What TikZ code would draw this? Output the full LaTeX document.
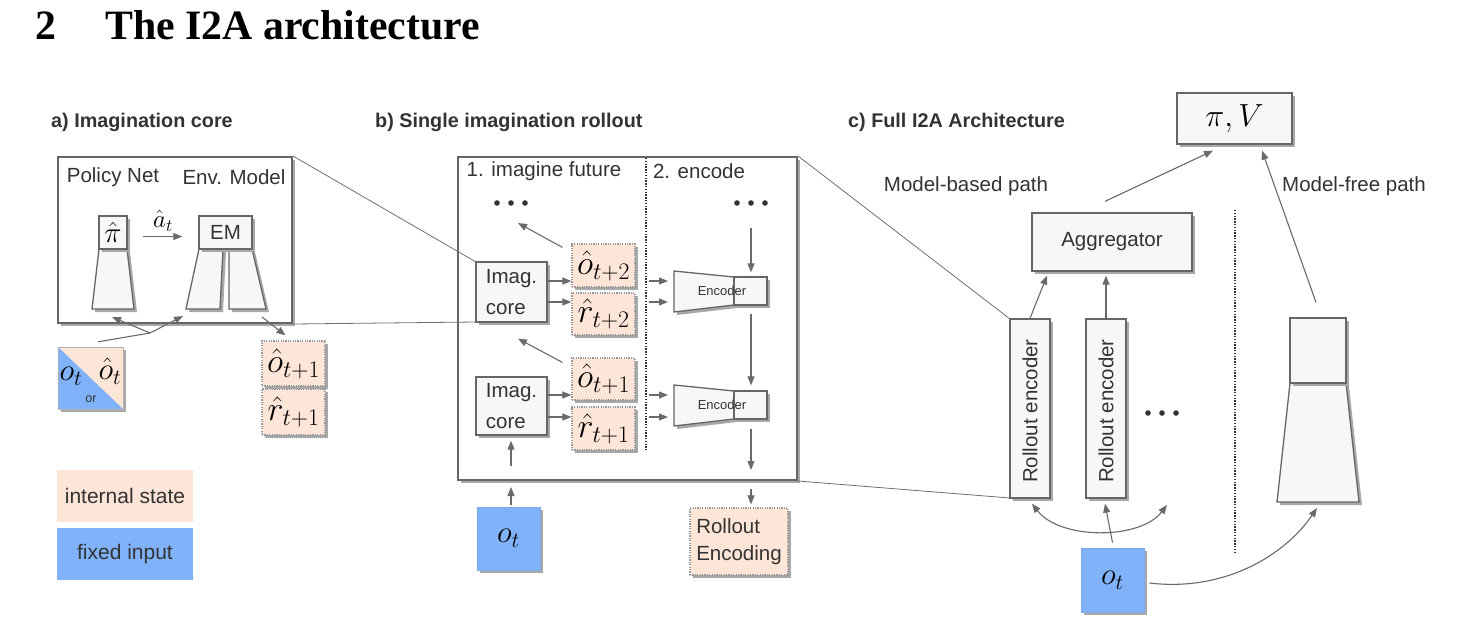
\RequirePackage{fix-cm}
\documentclass[tikz,border=0pt]{standalone}
\usepackage{fontspec}
\setmainfont{Liberation Sans}
\newfontfamily\titlefont{Liberation Serif}
\usetikzlibrary{arrows.meta,shadows,calc}
\definecolor{bord}{HTML}{666666}
\definecolor{boxf}{HTML}{F7F7F7}
\definecolor{shad}{HTML}{A8A8A8}
\definecolor{peach}{HTML}{FDE5D8}
\definecolor{blueF}{HTML}{80B2F9}
\definecolor{arrc}{HTML}{6A6A6A}
\definecolor{txtc}{HTML}{333333}
\definecolor{zlc}{HTML}{707070}
\definecolor{dotc}{HTML}{999999}
\begin{document}
\begin{tikzpicture}[x=1pt,y=-1pt,
  lbl/.style={text=txtc,font=\fontsize{20.5}{24}\selectfont,inner sep=0pt},
  sub/.style={text=txtc,font=\bfseries\fontsize{19.8}{23}\selectfont,inner sep=0pt,anchor=base west},
  shd/.style={drop shadow={shadow xshift=3pt,shadow yshift=-3pt,fill=shad,opacity=1}},
  box/.style={shd,draw=bord,line width=1.3pt,fill=boxf,text=txtc,inner sep=0pt,align=center,font=\fontsize{20.5}{24}\selectfont},
  panel/.style={shd,draw=bord,line width=2pt,fill=white,inner sep=0pt},
  istate/.style={shd,draw=dotc,line width=1.2pt,dash pattern=on 1.2pt off 1.2pt,fill=peach,inner sep=0pt,text=black,font=\fontsize{34}{38}\selectfont},
  fixed/.style={shd,fill=blueF,draw=blueF!85!gray,line width=0.8pt,inner sep=0pt,text=black,font=\fontsize{31}{36}\selectfont},
  arr/.style={draw=arrc,line width=1.1pt,-{Triangle[length=9pt,width=7pt]}},
  darr/.style={draw=arrc,line width=1.1pt,{Triangle[length=9pt,width=7pt]}-{Triangle[length=9pt,width=7pt]}},
  ln/.style={draw=arrc,line width=1.1pt},
  zl/.style={draw=zlc,line width=0.8pt},
  trap/.style={draw=bord,line width=1.3pt,fill=boxf,preaction={fill=shad,transform canvas={xshift=3pt,yshift=-3pt}}},
  mth/.style={inner sep=0pt,text=black,font=\fontsize{31}{36}\selectfont},
  enc/.style={inner sep=0pt,text=txtc,font=\fontsize{13}{15}\selectfont}
]
\fill[white] (0,0) rectangle (1468,638);
\useasboundingbox (0,0) rectangle (1468,638);

% ---------- titles ----------
\node[anchor=base west,inner sep=0pt,font=\titlefont\bfseries\fontsize{41.8}{46}\selectfont] (tnum) at (35,39) {2};
\node[anchor=base west,inner sep=0pt,font=\titlefont\bfseries\fontsize{41.8}{46}\selectfont] (ttl) at (105,39) {The I2A architecture};
\node[sub] (suba) at (51,127) {a) Imagination core};
\node[sub] (subb) at (375,127) {b) Single imagination rollout};
\node[sub] (subc) at (848,127) {c) Full I2A Architecture};

% ---------- panels ----------
\node[panel,minimum width=234pt,minimum height=166pt] (pa) at (175,240) {};
\node[panel,minimum width=339pt,minimum height=323pt] (pb) at (627.5,318.5) {};

% zoom lines
\coordinate (icnw) at (476,262);
\coordinate (icsw) at (476,322);
\coordinate (renw) at (1010,319);
\coordinate (resw) at (1010,498);
\draw[zl] (pa.north east) -- (icnw);
\draw[zl] (pa.south east) -- (icsw);
\draw[zl] (pb.north east) -- (renw);
\draw[zl] (pb.south east) -- (resw);

% ---------- panel a ----------
\node[lbl] (pnl) at (113,177) {Policy Net};
\node[lbl] (eml) at (234,177) {Env. Model};
\path[trap] (99,249) -- (127,249) -- (134,309) -- (92,309) -- cycle;
\node[box,minimum width=28pt,minimum height=33pt,text=black,font=\fontsize{29}{32}\selectfont] (pih) at (113,232.5) {$\hat\pi$};
\path[trap] (199,249) -- (223,249) -- (220,309) -- (186,309) -- cycle;
\path[trap] (229,249) -- (252,249) -- (266,309) -- (229,309) -- cycle;
\node[box,minimum width=53pt,minimum height=33pt] (emb) at (225.5,232.5) {EM};
\draw[arr] ($(pih.east)+(15,4)$) -- ($(emb.west)+(-16,4)$);
\node[mth,font=\fontsize{25}{28}\selectfont] (atl) at (163,221) {$\hat a_t$};

% input square
\node[shd,fill=peach,minimum width=65pt,minimum height=62pt,inner sep=0pt] (sq) at (90.5,378) {};
\fill[blueF] (sq.north west) -- (sq.south east) -- (sq.south west) -- cycle;
\draw[gray!60,line width=0.6pt] (sq.north west) rectangle (sq.south east);
\node[mth,font=\fontsize{31}{34}\selectfont] (sqo) at (71,376) {$o_t$};
\node[mth,font=\fontsize{31}{34}\selectfont] (sqoh) at (110,371) {$\hat o_t$};
\node[inner sep=0pt,text=txtc,font=\fontsize{12.5}{14}\selectfont] (sqor) at (91,399) {or};

\coordinate (jin) at ($(sq.north)+(7.5,-5)$);
\coordinate (j) at (150,333);
\coordinate (jp) at (112,317);
\coordinate (je) at (183,316);
\draw[ln] (jin) -- (j);
\draw[arr] (j) -- (jp);
\draw[arr] (j) -- (je);

\node[istate,minimum width=63pt,minimum height=45pt] (o1a) at (293.5,363.5) {$\hat o_{t+1}$};
\node[istate,minimum width=63pt,minimum height=46pt] (r1a) at (293.5,412) {$\hat r_{t+1}$};
\coordinate (emout) at (262,317);
\draw[arr] (emout) -- ($(o1a.north)+(-8,-5)$);

% legend
\node[fill=peach,minimum width=136pt,minimum height=52pt,inner sep=0pt,text=txtc,font=\fontsize{21}{24}\selectfont] (leg1) at (125,496) {internal state};
\node[fill=blueF,minimum width=136pt,minimum height=52pt,inner sep=0pt,text=txtc,font=\fontsize{21}{24}\selectfont] (leg2) at (125,554) {fixed input};

% ---------- panel b ----------
\draw[black!80,line width=1.6pt,dash pattern=on 1.4pt off 1.4pt] (646,158) -- (646,450);
\node[lbl] (l1) at (544,171) {1. imagine future};
\node[lbl] (l2) at (699,171) {2. encode};
\coordinate (dL) at (511,203);
\coordinate (dR) at (751,203);
\foreach \xx in {497,511,525} \fill[txtc] (\xx,203) circle[radius=2.8pt];
\foreach \xx in {737,751,765} \fill[txtc] (\xx,203) circle[radius=2.8pt];

\node[box,minimum width=71pt,minimum height=60pt,align=left,font=\fontsize{20.5}{31}\selectfont] (ic2) at (511.5,292) {Imag.\\core};
\node[box,minimum width=71pt,minimum height=58pt,align=left,font=\fontsize{20.5}{31}\selectfont] (ic1) at (511.5,406) {Imag.\\core};

\node[istate,minimum width=63pt,minimum height=43pt] (o2) at (603.5,265.5) {$\hat o_{t+2}$};
\node[istate,minimum width=63pt,minimum height=42pt] (r2) at (603.5,314) {$\hat r_{t+2}$};
\node[istate,minimum width=63pt,minimum height=42pt] (o1) at (603.5,379) {$\hat o_{t+1}$};
\node[istate,minimum width=63pt,minimum height=43pt] (r1) at (603.5,428.5) {$\hat r_{t+1}$};

% encoders
\path[trap] (674,271) -- (734,277) -- (734,305) -- (674,312) -- cycle;
\node[box,minimum width=33pt,minimum height=28pt] (e2r) at (750.5,291) {};
\node[enc] (e2t) at (722,291) {Encoder};
\path[trap] (674,385) -- (734,391) -- (734,419) -- (674,426) -- cycle;
\node[box,minimum width=33pt,minimum height=28pt] (e1r) at (750.5,405) {};
\node[enc] (e1t) at (722,405) {Encoder};

% arrows core -> states -> encoders
\coordinate (a1) at ($(ic2.east)+(0,-11)$);
\coordinate (a2) at ($(ic2.east)+(0,10)$);
\coordinate (a3) at ($(ic1.east)+(0,-11)$);
\coordinate (a4) at ($(ic1.east)+(0,11)$);
\coordinate (cx1) at (649,0);
\coordinate (cx2) at (668,0);
\draw[arr] (a1) -- (a1 -| o2.west);
\draw[arr] (a2) -- (a2 -| r2.west);
\draw[arr] (a3) -- (a3 -| o1.west);
\draw[arr] (a4) -- (a4 -| r1.west);
\foreach \c in {a1,a2,a3,a4} \draw[arr] (\c -| cx1) -- (\c -| cx2);

\draw[arr] ($(o2.north west)+(-9,4)$) -- ($(dL)+(7,20)$);
\draw[arr] ($(o1.north west)+(-9,5)$) -- ($(ic2.south)+(6.5,16)$);

\draw[arr] ($(dR)+(0,25)$) -- ($(e2r.north)+(0.5,-4)$);
\draw[arr] ($(e2r.south)+(0.5,8)$) -- ($(e1r.north)+(0.5,-5)$);
\draw[arr] ($(e1r.south)+(0.5,9)$) -- ($(pb.south)+(123.5,-11)$);

% bottom of panel b
\node[fixed,minimum width=63pt,minimum height=63pt] (ob) at (508.5,538.5) {$o_t$};
\draw[arr] ($(ob.north)+(2.5,-2)$) -- ($(pb.south)+(-116.5,6)$);
\draw[arr] ($(pb.south)+(-116.5,-15)$) -- ($(ic1.south)+(-0.5,5)$);
\node[istate,minimum width=98pt,minimum height=67pt,align=left,text=txtc,font=\fontsize{20.5}{27}\selectfont] (renc) at (739,541.5) {Rollout\\Encoding};
\draw[arr] ($(pb.south)+(123.5,8)$) -- ($(renc.north)+(12,-3)$);

% ---------- panel c ----------
\node[box,minimum width=115pt,minimum height=51pt,text=black,font=\fontsize{32}{36}\selectfont] (pv) at (1234.5,118.5) {$\pi, V$};
\node[lbl] (mbp) at (966,186) {Model-based path};
\node[lbl] (mfp) at (1354,186) {Model-free path};
\node[box,minimum width=160pt,minimum height=58pt] (agg) at (1112,242) {Aggregator};
\node[box,minimum width=40pt,minimum height=179pt] (re1) at (1030,408.5) {};
\node[lbl,rotate=90] (re1t) at (1030,411) {Rollout encoder};
\node[box,minimum width=40pt,minimum height=179pt] (re2) at (1106,408.5) {};
\node[lbl,rotate=90] (re2t) at (1106,411) {Rollout encoder};
\foreach \xx in {1148,1162,1176} \fill[txtc] (\xx,413) circle[radius=2.8pt];

\draw[black!80,line width=1.6pt,dash pattern=on 1.4pt off 1.4pt] (1235,210) -- (1235,552);

\path[trap] (1290,383) -- (1346,383) -- (1359,502) -- (1277,502) -- cycle;
\node[box,minimum width=56pt,minimum height=65pt] (mfr) at (1318,350.5) {};

\node[fixed,minimum width=63pt,minimum height=64pt] (oc) at (1112.5,580) {$o_t$};

\coordinate (dotsend) at (1167,505);
\coordinate (mfbot) at (1317,508);
\draw[arr] (re1.north) -- ($(agg.south)+(-65,4)$);
\draw[arr] (re2.north) -- ($(agg.south)+(-6,4)$);
\draw[arr] ($(oc.north)+(0,-5)$) -- ($(re2.south)+(-1,5)$);
\draw[darr] ($(re1.south)+(2,5)$) .. controls (1060,540) and (1140,540) .. (dotsend);
\draw[arr] ($(oc.east)+(5,3)$) .. controls (1225,592) and (1285,555) .. (mfbot);
\draw[arr] ($(mfr.north)+(-2,-15)$) -- ($(pv.south)+(27.5,6)$);
\draw[arr] ($(agg.north)+(-7,-11)$) -- ($(pv.south)+(-21.5,6)$);
\end{tikzpicture}
\end{document}
